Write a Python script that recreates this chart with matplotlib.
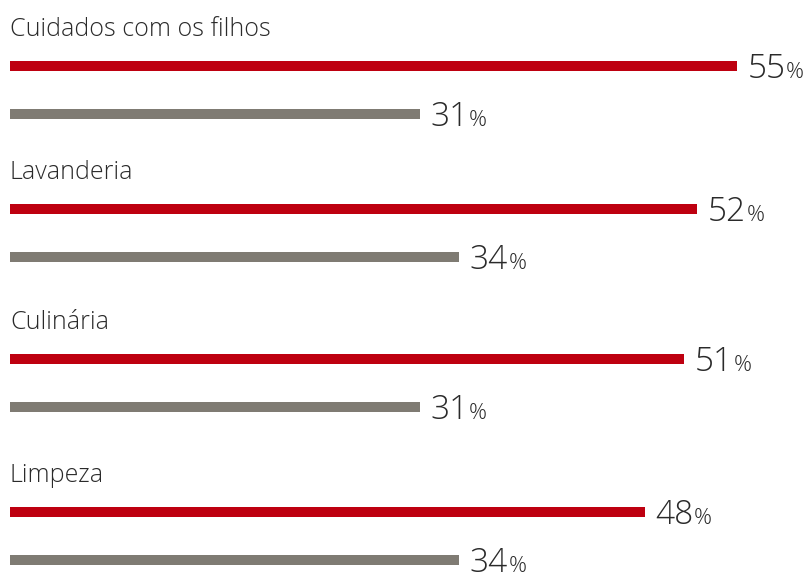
import matplotlib.pyplot as plt

categories = ['Cuidados com os filhos', 'Lavanderia', 'Culinária', 'Limpeza']
red_values = [55, 52, 51, 48]
gray_values = [31, 34, 31, 34]

RED = '#BE0010'
GRAY = '#7F7B73'
TEXT = '#2a2a2a'
FONT = 'Open Sans'

W, H = 806, 577
px_per_pct = 13.22
x0_px = 10

fig = plt.figure(figsize=(W / 100, H / 100), dpi=100)
ax = fig.add_axes([0, 0, 1, 1])
ax.set_xlim(-x0_px / px_per_pct, (W - x0_px) / px_per_pct)
ax.set_ylim(H, 0)
ax.axis('off')

# layout (y in pixel units, top down)
label_y = [27, 170, 320, 473]
red_y = [y + 39 for y in label_y]
gray_y = [y + 48 for y in red_y]


def value_label(x, y, v):
    num = ax.annotate(f'{v}', xy=(x, y), xytext=(7.5, -8.6), textcoords='offset points',
                      ha='left', va='baseline', fontsize=24, color=TEXT,
                      family=FONT, fontweight='light')
    ax.annotate('%', xy=(1, y), xycoords=(num, 'data'), xytext=(0.5, -8.6),
                textcoords='offset points', ha='left', va='baseline',
                fontsize=16, color=TEXT, family=FONT, fontweight='light')


ax.barh(red_y, red_values, height=10, left=0, color=RED)
ax.barh(gray_y, gray_values, height=10, left=0, color=GRAY)

for i, cat in enumerate(categories):
    ax.text(0, label_y[i] + 9, cat, ha='left', va='baseline', fontsize=18,
            color=TEXT, family=FONT, fontweight='light')
    value_label(red_values[i], red_y[i], red_values[i])
    value_label(gray_values[i], gray_y[i], gray_values[i])

fig.savefig('out.png', dpi=100, facecolor='white')
